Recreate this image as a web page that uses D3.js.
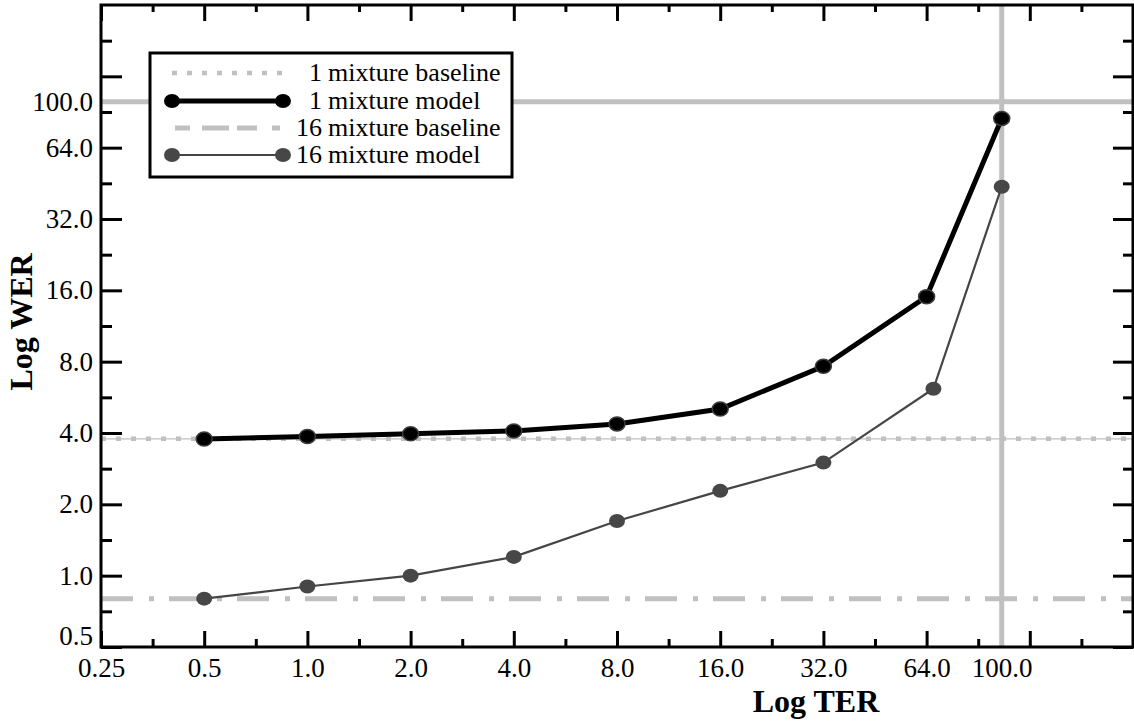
<!DOCTYPE html>
<html>
<head>
<meta charset="utf-8">
<script src="https://cdn.jsdelivr.net/npm/d3@7"></script>
<style>
  html, body { margin: 0; padding: 0; background: #fff; }
  svg { display: block; }
  text { font-family: "Liberation Serif", "Times New Roman", serif; }
</style>
</head>
<body>
<svg id="chart" width="1134" height="728"></svg>
<script>
// ---- data ----
const ter1 = [0.5, 1, 2, 4, 8, 16, 32, 64, 106];
const wer1Model = [3.77, 3.87, 3.97, 4.08, 4.37, 5.05, 7.65, 15.05, 85];
const ter16 = [0.5, 1, 2, 4, 8, 16, 32, 67, 106];
const wer16Model = [0.80, 0.90, 1.0, 1.20, 1.70, 2.28, 3.0, 6.15, 43.8];
const baseline1 = 3.78;
const baseline16 = 0.80;
const refTER = 106;
const refWER = 100;
const xMajor = [0.25, 0.5, 1, 2, 4, 8, 16, 32, 64, 128];
const yMajor = [0.5, 1, 2, 4, 8, 16, 32, 64, 128];
const xLabelValues = [0.25, 0.5, 1, 2, 4, 8, 16, 32, 64, 106];
const xLabelText = ["0.25", "0.5", "1.0", "2.0", "4.0", "8.0", "16.0", "32.0", "64.0", "100.0"];
const yLabelValues = [0.5, 1, 2, 4, 8, 16, 32, 64, 100];
const yLabelText = ["0.5", "1.0", "2.0", "4.0", "8.0", "16.0", "32.0", "64.0", "100.0"];
const legendNum = ["1", "1", "16", "16"];
const legendRest = ["mixture baseline", "mixture model", "mixture baseline", "mixture model"];

// ---- layout ----
const L = 101, R = 1133, T = 5, B = 647;
const svg = d3.select("#chart");
const x = d3.scaleLog().base(2).domain([0.25, 256]).range([L, R]);
const y = d3.scaleLog().base(2).domain([0.5, 256]).range([B, T]);
const xMinor = xMajor.map(v => v * Math.SQRT2);
const yMinor = yMajor.map(v => v * Math.SQRT2);

const grey = "#c0c0c0";
const dotDash = "5,10";
const dashDot = "32,16,5,15";
const FONT = "Liberation Serif";

// reference lines
svg.append("line").attr("x1", L).attr("x2", R).attr("y1", y(refWER)).attr("y2", y(refWER))
  .attr("stroke", grey).attr("stroke-width", 5);
svg.append("line").attr("x1", x(refTER)).attr("x2", x(refTER)).attr("y1", T).attr("y2", B)
  .attr("stroke", grey).attr("stroke-width", 5);

// baselines
svg.append("line").attr("x1", L).attr("x2", R).attr("y1", y(baseline1)).attr("y2", y(baseline1))
  .attr("stroke", grey).attr("stroke-width", 1.2);
svg.append("line").attr("x1", L).attr("x2", R).attr("y1", y(baseline1)).attr("y2", y(baseline1))
  .attr("stroke", grey).attr("stroke-width", 4.5).attr("stroke-dasharray", dotDash);
svg.append("line").attr("x1", L).attr("x2", R).attr("y1", y(baseline16)).attr("y2", y(baseline16))
  .attr("stroke", grey).attr("stroke-width", 5).attr("stroke-dasharray", dashDot);

// ticks (inward) on all sides
function tickAxis(axisFn, scale, values, size, transform) {
  const g = svg.append("g").attr("transform", transform)
    .call(axisFn(scale).tickValues(values).tickSize(size).tickFormat(""));
  g.select(".domain").remove();
  g.selectAll(".tick line").attr("stroke", "#000").attr("stroke-width", 3);
  return g;
}
tickAxis(d3.axisBottom, x, xMajor, -16, `translate(0,${B})`);
tickAxis(d3.axisBottom, x, xMinor, -8, `translate(0,${B})`);
tickAxis(d3.axisTop, x, xMajor, -16, `translate(0,${T})`);
tickAxis(d3.axisTop, x, xMinor, -7, `translate(0,${T})`);
tickAxis(d3.axisLeft, y, yMajor, -21, `translate(${L},0)`);
tickAxis(d3.axisLeft, y, yMinor, -11, `translate(${L},0)`);
tickAxis(d3.axisRight, y, yMajor, -20, `translate(${R},0)`);
tickAxis(d3.axisRight, y, yMinor, -10, `translate(${R},0)`);

// tick labels
const xl = svg.append("g").attr("transform", `translate(0,${B})`)
  .call(d3.axisBottom(x).tickValues(xLabelValues).tickSize(0).tickPadding(11)
    .tickFormat((d, i) => xLabelText[i]));
xl.select(".domain").remove();
xl.attr("font-family", FONT);
xl.selectAll("text").attr("font-size", 27).attr("fill", "#000").attr("font-family", FONT);

const yl = svg.append("g").attr("transform", `translate(${L},0)`)
  .call(d3.axisLeft(y).tickValues(yLabelValues).tickSize(0).tickPadding(8)
    .tickFormat((d, i) => yLabelText[i]));
yl.select(".domain").remove();
yl.attr("font-family", FONT);
yl.selectAll("text").attr("font-size", 27).attr("fill", "#000").attr("font-family", FONT);
// lowest label sits just above the frame corner, as in the original
yl.selectAll(".tick").filter((d, i) => i === 0).select("text").attr("dy", "-0.1em");

// frame
svg.append("rect").attr("x", L).attr("y", T).attr("width", R - L).attr("height", B - T)
  .attr("fill", "none").attr("stroke", "#000").attr("stroke-width", 3);

// series
const line = d3.line().x(d => x(d[0])).y(d => y(d[1]));
const s16 = ter16.map((t, i) => [t, wer16Model[i]]);
const s1 = ter1.map((t, i) => [t, wer1Model[i]]);

svg.append("path").datum(s16).attr("d", line).attr("fill", "none")
  .attr("stroke", "#454545").attr("stroke-width", 2.2);
svg.selectAll(".m16").data(s16).enter().append("ellipse")
  .attr("cx", d => x(d[0])).attr("cy", d => y(d[1])).attr("rx", 8).attr("ry", 7)
  .attr("fill", "#474747");

svg.append("path").datum(s1).attr("d", line).attr("fill", "none")
  .attr("stroke", "#000").attr("stroke-width", 5);
svg.selectAll(".m1").data(s1).enter().append("ellipse")
  .attr("cx", d => x(d[0])).attr("cy", d => y(d[1])).attr("rx", 8).attr("ry", 7)
  .attr("fill", "#000").attr("stroke", "#3c3c3c").attr("stroke-width", 1.5);

// axis titles
svg.append("text").attr("x", 816).attr("y", 712).attr("text-anchor", "middle")
  .attr("font-family", FONT).attr("font-size", 32).attr("font-weight", "bold").text("Log TER");
svg.append("text").attr("transform", "translate(32,322) rotate(-90)").attr("text-anchor", "middle")
  .attr("font-family", FONT).attr("font-size", 32).attr("font-weight", "bold").text("Log WER");

// legend
const lg = svg.append("g");
lg.append("rect").attr("x", 150).attr("y", 53).attr("width", 362).attr("height", 124)
  .attr("fill", "#fff").attr("stroke", "#000").attr("stroke-width", 3);
const rowY = [73, 101, 128, 155];
const lx1 = 172, lx2 = 283;
lg.append("line").attr("x1", lx1).attr("x2", lx2).attr("y1", rowY[0]).attr("y2", rowY[0])
  .attr("stroke", grey).attr("stroke-width", 4.5).attr("stroke-dasharray", dotDash);
lg.append("line").attr("x1", lx1).attr("x2", lx2).attr("y1", rowY[1]).attr("y2", rowY[1])
  .attr("stroke", "#000").attr("stroke-width", 5);
[lx1, lx2].forEach(cx => lg.append("ellipse").attr("cx", cx).attr("cy", rowY[1])
  .attr("rx", 8).attr("ry", 7).attr("fill", "#000"));
lg.append("line").attr("x1", lx1 + 3).attr("x2", lx2 - 3).attr("y1", rowY[2]).attr("y2", rowY[2])
  .attr("stroke", grey).attr("stroke-width", 5).attr("stroke-dasharray", "15,12,27,8,20,15,9");
lg.append("line").attr("x1", lx1).attr("x2", lx2).attr("y1", rowY[3]).attr("y2", rowY[3])
  .attr("stroke", "#454545").attr("stroke-width", 2.2);
[lx1, lx2].forEach(cx => lg.append("ellipse").attr("cx", cx).attr("cy", rowY[3])
  .attr("rx", 8).attr("ry", 7).attr("fill", "#474747"));
legendNum.forEach((n, i) => {
  lg.append("text").attr("x", 322).attr("y", rowY[i] + 8).attr("text-anchor", "end")
    .attr("font-family", FONT).attr("font-size", 26).text(n);
  lg.append("text").attr("x", 328).attr("y", rowY[i] + 8).attr("text-anchor", "start")
    .attr("font-family", FONT).attr("font-size", 26).text(legendRest[i]);
});
</script>
</body>
</html>
